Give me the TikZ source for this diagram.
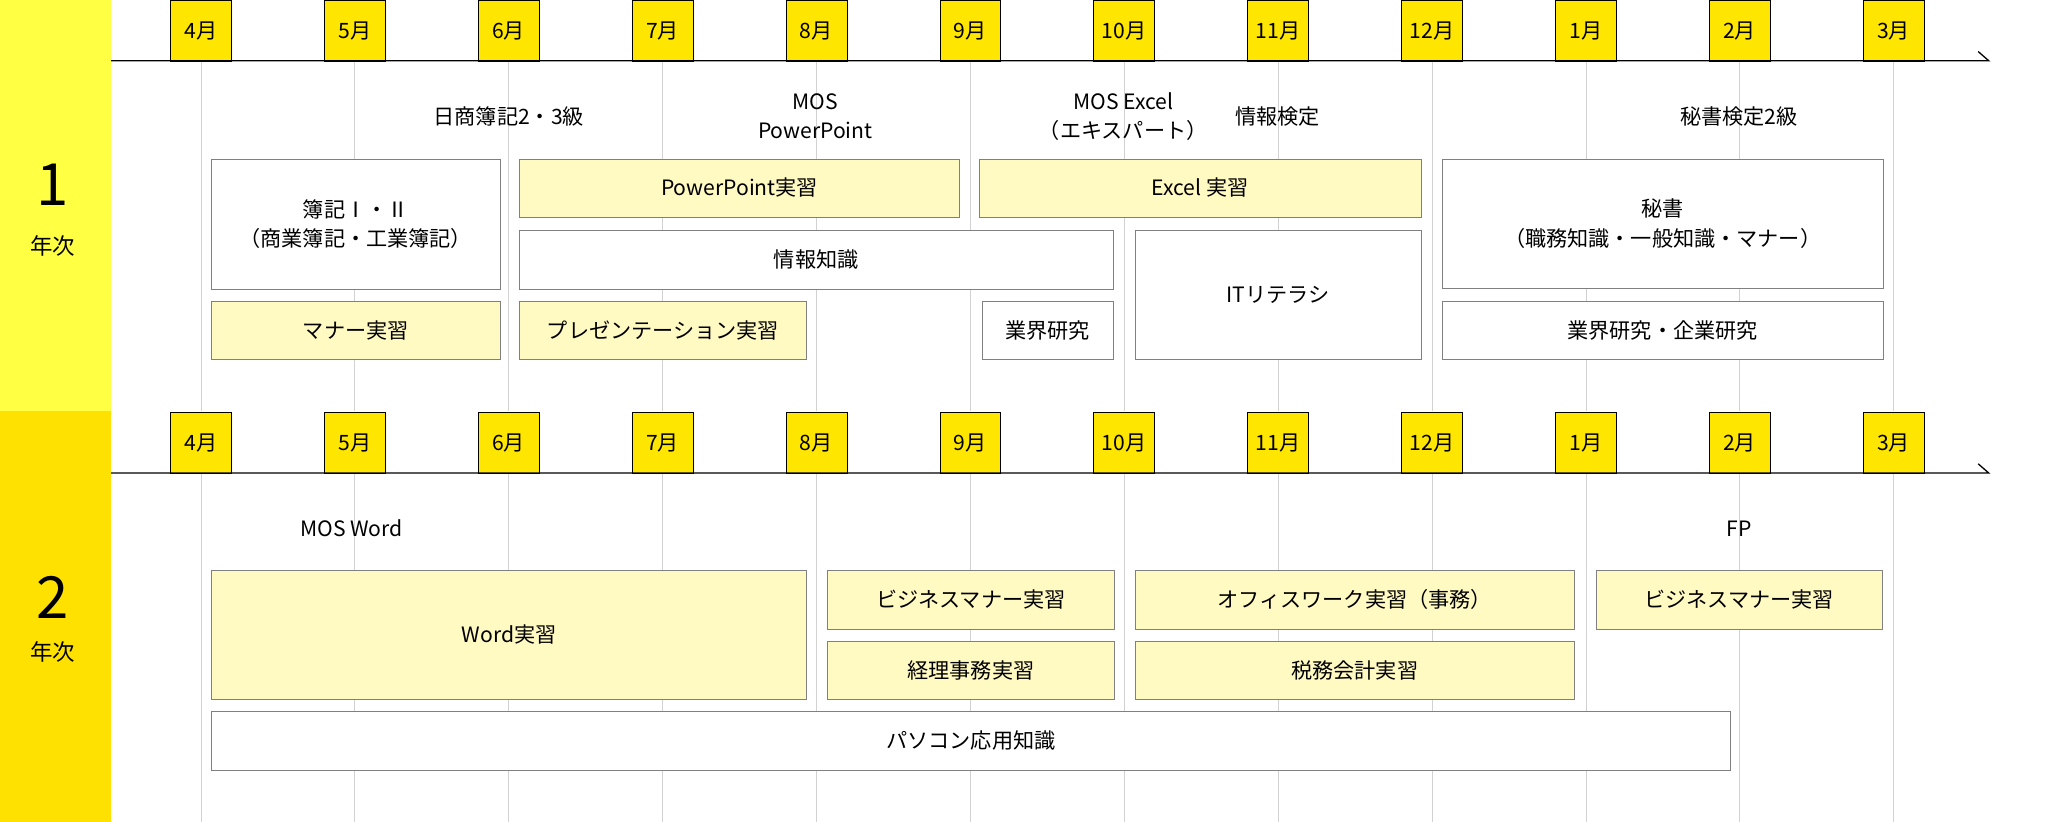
\documentclass[tikz,border=0pt]{standalone}
\usepackage{fontspec}
\setmainfont{Noto Sans CJK JP}
\definecolor{bandA}{HTML}{FFFF44}
\definecolor{bandB}{HTML}{FFE100}
\definecolor{monthY}{HTML}{FFE600}
\definecolor{paleY}{HTML}{FFF9C2}
\begin{document}
\begin{tikzpicture}[x=1pt,y=-1pt,
    month/.style={draw=black, fill=monthY, minimum width=46pt, minimum height=46pt, inner sep=0pt, font=\fontsize{16}{18}\selectfont},
    plain/.style={draw=gray, fill=white, inner sep=0pt, align=center, font=\fontsize{16}{22}\selectfont},
    paleplan/.style={plain, fill=paleY},
    note/.style={align=center, font=\fontsize{16}{22}\selectfont}]
  \useasboundingbox (0,0) rectangle (1568,622);
  % bands
  \fill[bandA] (0,0) rectangle (84,311);
  \fill[bandB] (0,311) rectangle (84,622);
  \node (yr1) at (40,140) {\fontsize{44}{44}\selectfont 1};
  \node (yr1t) at (40,186) {\fontsize{17}{20}\selectfont 年次};
  \node (yr2) at (40,452) {\fontsize{44}{44}\selectfont 2};
  \node (yr2t) at (40,493) {\fontsize{17}{20}\selectfont 年次};
  % grid and month boxes
  \foreach \m [count=\i from 0] in {4,5,6,7,8,9,10,11,12,1,2,3} {
    \pgfmathsetmacro{\mx}{152+116.45*\i}
    \draw[gray!35] (\mx,46) -- (\mx,311);
    \draw[gray!35] (\mx,358) -- (\mx,622);
    \node[month, anchor=north] (ma\i) at (\mx,0) {\m 月};
    \node[month, anchor=north] (mb\i) at (\mx,312) {\m 月};
  }
  \coordinate (la) at (84,46); \coordinate (lae) at (1505,46); \coordinate (lat) at (1497,39);
  \coordinate (lb) at (84,358); \coordinate (lbe) at (1505,358); \coordinate (lbt) at (1497,351);
  \draw[line width=1pt] (la) -- (lae) -- (lat);
  \draw[line width=1pt] (lb) -- (lbe) -- (lbt);
  % first year
  \node[note] (q1) at (385,88) {日商簿記2・3級};
  \node[note] (q2) at (617,88) {MOS\\PowerPoint};
  \node[note] (q3) at (850,88) {MOS Excel\\（エキスパート）};
  \node[note] (q4) at (967,88) {情報検定};
  \node[note] (q5) at (1316,88) {秘書検定2級};
  \node[plain, minimum width=218pt, minimum height=99pt, anchor=north west] (boki) at (160,120) {簿記Ⅰ・Ⅱ\\（商業簿記・工業簿記）};
  \node[paleplan, minimum width=218pt, minimum height=44pt, anchor=north west] (manner) at (160,228) {マナー実習};
  \node[paleplan, minimum width=333pt, minimum height=44pt, anchor=north west] (ppt) at (393,120) {PowerPoint実習};
  \node[plain, minimum width=449pt, minimum height=45pt, anchor=north west] (info) at (393,174) {情報知識};
  \node[paleplan, minimum width=217pt, minimum height=44pt, anchor=north west] (pres) at (393,228) {プレゼンテーション実習};
  \node[paleplan, minimum width=334pt, minimum height=44pt, anchor=north west] (excel) at (741,120) {Excel 実習};
  \node[plain, minimum width=99pt, minimum height=44pt, anchor=north west] (ind1) at (743,228) {業界研究};
  \node[plain, minimum width=216pt, minimum height=98pt, anchor=north west] (it) at (859,174) {ITリテラシ};
  \node[plain, minimum width=334pt, minimum height=98pt, anchor=north west] (sec) at (1091,120) {秘書\\（職務知識・一般知識・マナー）};
  \node[plain, minimum width=334pt, minimum height=44pt, anchor=north west] (ind2) at (1091,228) {業界研究・企業研究};
  % second year
  \node[note] (q6) at (266,400) {MOS Word};
  \node[note] (q7) at (1316,400) {FP};
  \node[paleplan, minimum width=450pt, minimum height=98pt, anchor=north west] (word) at (160,431) {Word実習};
  \node[paleplan, minimum width=217pt, minimum height=45pt, anchor=north west] (bm1) at (626,431) {ビジネスマナー実習};
  \node[paleplan, minimum width=217pt, minimum height=44pt, anchor=north west] (acc) at (626,485) {経理事務実習};
  \node[paleplan, minimum width=332pt, minimum height=45pt, anchor=north west] (office) at (859,431) {オフィスワーク実習（事務）};
  \node[paleplan, minimum width=332pt, minimum height=44pt, anchor=north west] (tax) at (859,485) {税務会計実習};
  \node[paleplan, minimum width=216pt, minimum height=45pt, anchor=north west] (bm2) at (1208,431) {ビジネスマナー実習};
  \node[plain, minimum width=1149pt, minimum height=45pt, anchor=north west] (pc) at (160,538) {パソコン応用知識};
\end{tikzpicture}
\end{document}
